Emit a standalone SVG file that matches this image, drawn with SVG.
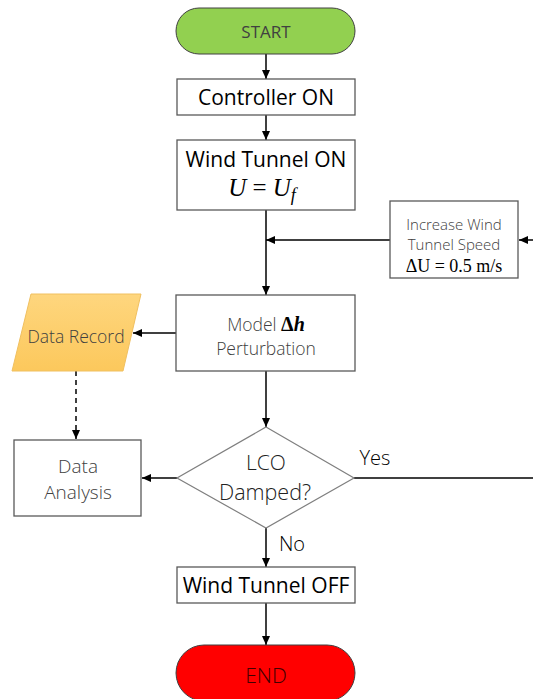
<svg xmlns="http://www.w3.org/2000/svg" width="533" height="699" viewBox="0 0 533 699">
<defs>
<style>
.box{fill:#fff;stroke:#595959;stroke-width:1.3}
.ln{stroke:#000;stroke-width:1.5;fill:none}
.t{font-family:"Open Sans","Noto Sans",sans-serif;text-anchor:middle}
.dk{fill:#000;font-size:21px}
.gy{fill:#404040;font-size:17.5px;font-weight:300}
.m{font-family:"Liberation Serif","DejaVu Serif",serif}
</style>
<marker id="ah" markerWidth="10" markerHeight="10" refX="9" refY="5" orient="auto" markerUnits="userSpaceOnUse">
<path d="M0,1 L9,5 L0,9 Z" fill="#000"/>
</marker>
<linearGradient id="og" x1="0" y1="0" x2="0" y2="1">
<stop offset="0" stop-color="#fed67e"/>
<stop offset="1" stop-color="#fcc85c"/>
</linearGradient>
</defs>
<g id="connectors">
<line class="ln" x1="266" y1="54" x2="266" y2="79" marker-end="url(#ah)"/>
<line class="ln" x1="266" y1="115" x2="266" y2="140" marker-end="url(#ah)"/>
<line class="ln" x1="266" y1="210" x2="266" y2="295" marker-end="url(#ah)"/>
<line class="ln" x1="390" y1="240" x2="266" y2="240" marker-end="url(#ah)"/>
<line class="ln" x1="533" y1="240" x2="519" y2="240" marker-end="url(#ah)"/>
<line class="ln" x1="176" y1="333" x2="133" y2="333" marker-end="url(#ah)"/>
<line class="ln" x1="76" y1="371" x2="76" y2="439" stroke-dasharray="5,4" marker-end="url(#ah)"/>
<line class="ln" x1="266" y1="371" x2="266" y2="427" marker-end="url(#ah)"/>
<line class="ln" x1="177" y1="478" x2="142" y2="478" marker-end="url(#ah)"/>
<line class="ln" x1="354" y1="478" x2="533" y2="478"/>
<line class="ln" x1="266" y1="528" x2="266" y2="567" marker-end="url(#ah)"/>
<line class="ln" x1="266" y1="603" x2="266" y2="645" marker-end="url(#ah)"/>
<text class="t" x="375" y="465" fill="#000" font-size="20" font-weight="300">Yes</text>
<text class="t" x="292" y="551" fill="#000" font-size="20" font-weight="300">No</text>
</g>
<g id="start">
<rect x="176" y="8" width="179" height="46" rx="23" fill="#92d050" stroke="#404040" stroke-width="1"/>
<text class="t" x="266" y="38" fill="#404040" font-size="17">START</text>
</g>
<g id="controller">
<rect class="box" x="177" y="79" width="178" height="36"/>
<text class="t dk" x="266" y="105">Controller ON</text>
</g>
<g id="windon">
<rect class="box" x="177" y="140" width="178" height="70"/>
<text class="t dk" x="266" y="167">Wind Tunnel ON</text>
<text class="m" x="262" y="196" font-size="25" text-anchor="middle" fill="#000"><tspan font-style="italic">U</tspan> = <tspan font-style="italic">U</tspan><tspan font-style="italic" font-size="18" dy="5">f</tspan></text>
</g>
<g id="increase">
<rect class="box" x="390" y="201" width="128" height="77"/>
<text class="t" x="454" y="230" fill="#404040" font-size="15" font-weight="300">Increase Wind</text>
<text class="t" x="454" y="250" fill="#404040" font-size="15" font-weight="300">Tunnel Speed</text>
<text class="m" x="454" y="272" font-size="18" text-anchor="middle" fill="#000">ΔU = 0.5 m/s</text>
</g>
<g id="model">
<rect class="box" x="176" y="295" width="179" height="76"/>
<text class="t gy" x="266" y="331"><tspan>Model </tspan><tspan class="m" font-weight="bold" fill="#000" font-size="20">Δ<tspan font-style="italic">h</tspan></tspan></text>
<text class="t gy" x="266" y="355">Perturbation</text>
</g>
<g id="datarecord">
<polygon points="31,294 141,294 123,371 12,371" fill="url(#og)" stroke="#f0c060" stroke-width="1"/>
<text class="t gy" x="76" y="343">Data Record</text>
</g>
<g id="dataanalysis">
<rect class="box" x="14" y="440" width="127" height="76"/>
<text class="t gy" x="78" y="473" style="font-size:19px">Data</text>
<text class="t gy" x="78" y="499" style="font-size:19px">Analysis</text>
</g>
<g id="decision">
<polygon points="266,427 354,478 266,528 177,478" fill="#fff" stroke="#7f7f7f" stroke-width="1.2"/>
<text class="t" x="266" y="470" fill="#222" font-size="21" font-weight="300">LCO</text>
<text class="t" x="265" y="500" fill="#222" font-size="21.5" font-weight="300">Damped?</text>
</g>
<g id="windoff">
<rect class="box" x="177" y="567" width="178" height="36"/>
<text class="t dk" x="266" y="593">Wind Tunnel OFF</text>
</g>
<g id="end">
<rect x="176" y="645" width="179" height="56" rx="28" fill="#ff0000" stroke="#404040" stroke-width="1"/>
<text class="t" x="266" y="683" fill="#400000" font-size="21" font-weight="300">END</text>
</g>
</svg>
